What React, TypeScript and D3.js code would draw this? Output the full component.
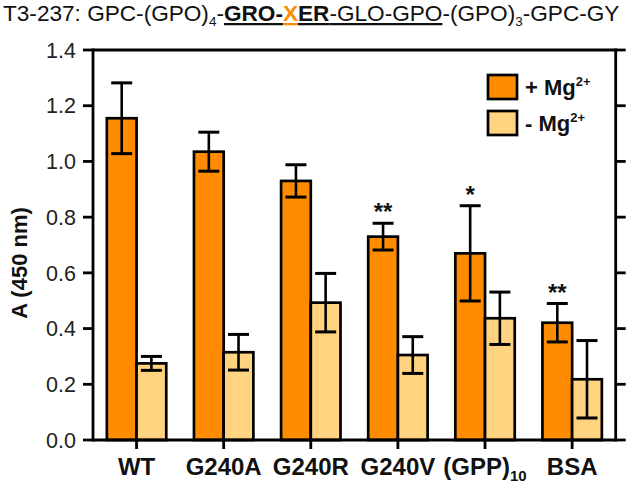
import React from "react";
import * as d3 from "d3";

const categories = ["WT", "G240A", "G240R", "G240V", "(GPP)", "BSA"];
const categorySubs = ["", "", "", "", "10", ""];
const withMg = [1.155, 1.035, 0.93, 0.73, 0.67, 0.421];
const withMgErr = [0.127, 0.07, 0.058, 0.048, 0.171, 0.069];
const withoutMg = [0.275, 0.315, 0.493, 0.305, 0.437, 0.218];
const withoutMgErr = [0.025, 0.064, 0.105, 0.066, 0.094, 0.139];
const significance = ["", "", "", "**", "*", "**"];
const yTicks = [0, 0.2, 0.4, 0.6, 0.8, 1.0, 1.2, 1.4];
const seriesNames = ["+ Mg", "- Mg"];
const seriesColors = ["#FF8C00", "#FFD37F"];

const W = 633, H = 488;
const left = 93, right = 615.7, top = 50, bottom = 440;
const FONT = "'Liberation Sans', Arial, sans-serif";

export default function App() {
  const x = d3.scaleBand<string>().domain(categories).range([left, right]).padding(0);
  const y = d3.scaleLinear().domain([0, 1.4]).range([bottom, top]);
  const barW = 29.7;
  const inner = d3.scaleBand<number>().domain([0, 1]).range([-barW, barW]).padding(0);
  const series = [
    { vals: withMg, errs: withMgErr },
    { vals: withoutMg, errs: withoutMgErr },
  ];
  const cx = (c: string) => (x(c) as number) + x.bandwidth() / 2;
  const capHalf = 10.5;

  return (
    <svg width={W} height={H} style={{ position: "absolute", left: 0, top: 0, background: "#fff" }} fontFamily={FONT}>
      {/* title */}
      <text x={3} y={21} fontSize={22.6} fill="#111">
        T3-237: GPC-(GPO)
        <tspan dy={5} fontSize={13.5}>4</tspan>
        <tspan dy={-5}>-</tspan>
        <tspan fontWeight="bold" textDecoration="underline">GRO-</tspan>
        <tspan fontWeight="bold" textDecoration="underline" fill="#FF8C00">X</tspan>
        <tspan fontWeight="bold" textDecoration="underline">ER</tspan>
        <tspan textDecoration="underline">-GLO-GPO</tspan>
        <tspan>-(GPO)</tspan>
        <tspan dy={5} fontSize={13.5}>3</tspan>
        <tspan dy={-5}>-GPC-GY</tspan>
      </text>

      {/* bars */}
      {categories.map((c, i) =>
        series.map((s, si) => {
          const bx = cx(c) + (inner(si) as number);
          const v = s.vals[i];
          return (
            <rect key={c + si} x={bx} y={y(v)} width={inner.bandwidth()} height={y(0) - y(v)}
              fill={seriesColors[si]} stroke="#000" strokeWidth={2.7} />
          );
        })
      )}
      {/* error bars */}
      {categories.map((c, i) =>
        series.map((s, si) => {
          const ex = cx(c) + (inner(si) as number) + inner.bandwidth() / 2;
          const v = s.vals[i], e = s.errs[i];
          return (
            <g key={"e" + c + si} stroke="#000">
              <line x1={ex} x2={ex} y1={y(v + e)} y2={y(v - e)} strokeWidth={2.6} />
              <line x1={ex - capHalf} x2={ex + capHalf} y1={y(v + e)} y2={y(v + e)} strokeWidth={3} />
              <line x1={ex - capHalf} x2={ex + capHalf} y1={y(v - e)} y2={y(v - e)} strokeWidth={3} />
            </g>
          );
        })
      )}
      {/* significance */}
      {categories.map((c, i) => {
        if (!significance[i]) return null;
        const ex = cx(c) + (inner(0) as number) + inner.bandwidth() / 2;
        return (
          <text key={"s" + c} x={ex} y={y(withMg[i] + withMgErr[i]) - 3} textAnchor="middle"
            fontSize={24} fontWeight="bold" fill="#111">{significance[i]}</text>
        );
      })}

      {/* frame */}
      <g stroke="#000" strokeWidth={2.8} fill="none">
        <line x1={left} x2={right} y1={top} y2={top} />
        <line x1={left} x2={right} y1={bottom} y2={bottom} />
        <line x1={left} x2={left} y1={top - 1.4} y2={bottom + 1.4} />
        <line x1={right} x2={right} y1={top - 1.4} y2={bottom + 1.4} />
      </g>
      {/* y ticks */}
      {yTicks.map((t) => (
        <g key={"yt" + t}>
          <line x1={left - 10} x2={left} y1={y(t)} y2={y(t)} stroke="#000" strokeWidth={2.8} />
          <line x1={right} x2={right + 10} y1={y(t)} y2={y(t)} stroke="#000" strokeWidth={2.8} />
          <text x={left - 17} y={y(t)} dy="0.36em" textAnchor="end" fontSize={21.5} fill="#222">{t.toFixed(1)}</text>
        </g>
      ))}
      {/* x ticks */}
      {categories.map((c, i) => (
        <g key={"xt" + c}>
          <line x1={cx(c)} x2={cx(c)} y1={bottom} y2={bottom + 9} stroke="#000" strokeWidth={2.8} />
          <text x={cx(c)} y={bottom + 35} textAnchor="middle" fontSize={24} fontWeight="bold" fill="#111">
            {c}
            {categorySubs[i] ? <tspan dy={6} fontSize={15}>{categorySubs[i]}</tspan> : null}
          </text>
        </g>
      ))}
      {/* y label */}
      <text transform={`translate(27, ${(top + bottom) / 2 + 18}) rotate(-90)`} textAnchor="middle"
        fontSize={22} fontWeight="bold" fill="#111">A (450 nm)</text>

      {/* legend */}
      {seriesNames.map((n, i) => (
        <g key={"lg" + i} transform={`translate(488, ${75 + i * 36})`}>
          <rect x={0} y={0} width={29} height={24} fill={seriesColors[i]} stroke="#000" strokeWidth={2.7} />
          <text x={37} y={20} fontSize={22} fontWeight="bold" fill="#111">
            {n}
            <tspan dy={-9} fontSize={13}>2+</tspan>
          </text>
        </g>
      ))}
    </svg>
  );
}
